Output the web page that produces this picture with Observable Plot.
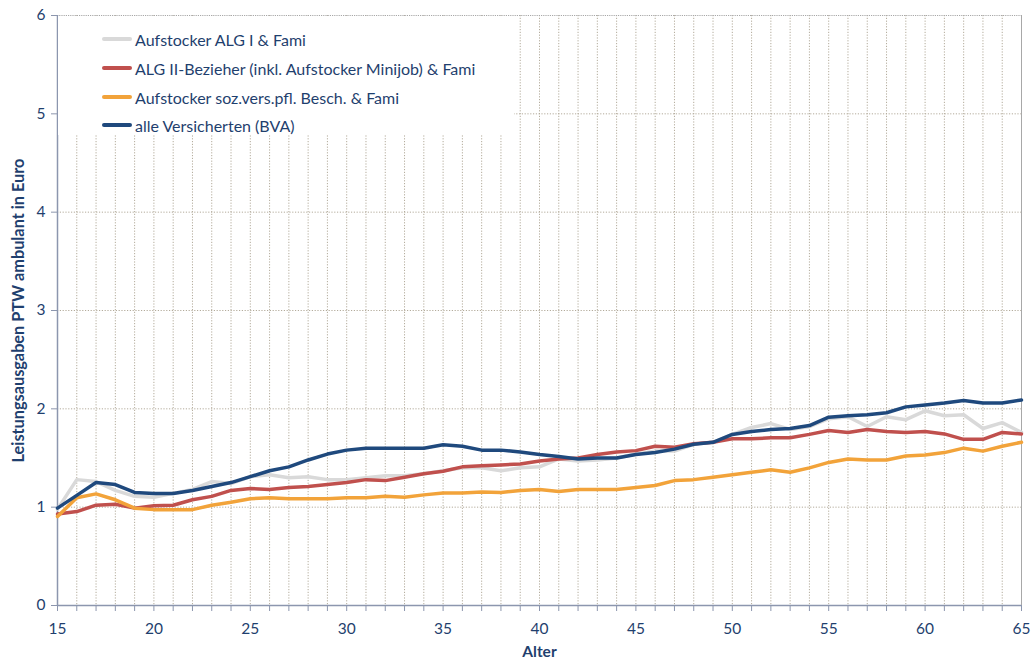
<!DOCTYPE html>
<html>
<head>
<meta charset="utf-8">
<script src="https://cdn.jsdelivr.net/npm/d3@7"></script>
<script src="https://cdn.jsdelivr.net/npm/@observablehq/plot@0.6"></script>
<style>
  html, body { margin: 0; padding: 0; background: #fff; }
  #wrap { position: relative; width: 1035px; height: 664px; font-family: Lato, "Open Sans", sans-serif; }
  #legend { position: absolute; left: 58px; top: 16px; width: 456px; height: 119px; background: #fff; }
  .item { position: absolute; left: 44px; height: 20px; display: flex; align-items: center; color: #1F3F6E; font-size: 16px; white-space: nowrap; }
  .sw { width: 30px; height: 4px; margin-right: 3px; border-radius: 2px; }
</style>
</head>
<body>
<div id="wrap">
  <div id="chart"></div>
  <div id="legend"></div>
</div>
<script>
const ages = d3.range(15, 66);
const seriesNames = [
  "Aufstocker ALG I & Fami",
  "ALG II-Bezieher (inkl. Aufstocker Minijob) & Fami",
  "Aufstocker soz.vers.pfl. Besch. & Fami",
  "alle Versicherten (BVA)"
];
const seriesColors = ["#D9D9D9", "#C0504D", "#F2A33A", "#1F497D"];

const algI = [0.98,1.28,1.26,1.17,1.11,1.10,1.14,1.18,1.26,1.24,1.31,1.33,1.30,1.31,1.28,1.28,1.30,1.32,1.32,1.34,1.37,1.40,1.40,1.37,1.40,1.41,1.49,1.47,1.48,1.50,1.54,1.57,1.57,1.64,1.66,1.74,1.81,1.85,1.79,1.82,1.90,1.92,1.82,1.92,1.89,1.98,1.93,1.94,1.80,1.86,1.76];
const algII = [0.93,0.955,1.02,1.03,0.99,1.015,1.02,1.075,1.11,1.17,1.19,1.18,1.20,1.21,1.23,1.25,1.28,1.27,1.305,1.34,1.365,1.41,1.42,1.43,1.44,1.47,1.49,1.50,1.535,1.56,1.575,1.62,1.61,1.645,1.66,1.695,1.695,1.705,1.705,1.74,1.78,1.76,1.79,1.77,1.76,1.77,1.745,1.69,1.69,1.76,1.745];
const sozvers = [0.905,1.095,1.135,1.075,0.99,0.975,0.975,0.975,1.02,1.05,1.085,1.095,1.085,1.085,1.085,1.095,1.095,1.11,1.10,1.125,1.145,1.145,1.155,1.15,1.17,1.18,1.16,1.18,1.18,1.18,1.20,1.22,1.27,1.28,1.305,1.33,1.355,1.38,1.355,1.40,1.455,1.49,1.48,1.48,1.52,1.53,1.555,1.60,1.57,1.62,1.66];
const bva = [0.99,1.12,1.25,1.23,1.15,1.14,1.14,1.17,1.21,1.25,1.31,1.37,1.41,1.48,1.54,1.58,1.60,1.60,1.60,1.60,1.635,1.62,1.58,1.58,1.56,1.535,1.515,1.49,1.50,1.50,1.535,1.555,1.59,1.64,1.66,1.74,1.77,1.79,1.80,1.83,1.915,1.93,1.94,1.96,2.02,2.04,2.06,2.085,2.06,2.06,2.09];

const yTicks = [0,1,2,3,4,5,6];
const xLabelTicks = d3.range(15, 66, 5);
const gridX = d3.range(16, 65);
const gridY = [1,2,3,4,5];

const allValues = [algI, algII, sozvers, bva];
const rows = [];
allValues.forEach((vals, i) => vals.forEach((v, j) => rows.push({series: seriesNames[i], age: ages[j], value: v})));

const textColor = "#1F3F6E";
const axisColor = "#8C96AE";

const chart = Plot.plot({
  width: 1035,
  height: 664,
  marginLeft: 57,
  marginRight: 14,
  marginTop: 15,
  marginBottom: 59,
  style: {fontFamily: "Lato, 'Open Sans', sans-serif", fontSize: "15.5px", color: textColor, background: "#fff"},
  x: {domain: [15, 65]},
  y: {domain: [0, 6]},
  color: {domain: seriesNames, range: seriesColors},
  marks: [
    Plot.ruleX(gridX, {stroke: "#B3AB9B", strokeDasharray: "1.2,1.6", strokeWidth: 1}),
    Plot.ruleY(gridY, {stroke: "#B3AB9B", strokeDasharray: "1.2,1.6", strokeWidth: 1}),
    Plot.ruleY([6], {stroke: "#A8A8A8", strokeDasharray: "1.2,1"}),
    Plot.ruleX([65], {stroke: "#A8A8A8"}),
    Plot.ruleX([15], {stroke: axisColor, strokeWidth: 1.5}),
    Plot.ruleY([0], {stroke: axisColor, strokeWidth: 1.5}),
    Plot.axisX(ages, {tickSize: 6, tickFormat: () => "", stroke: axisColor, label: null}),
    Plot.axisX(xLabelTicks, {tickSize: 0, tickPadding: 17, fill: textColor, fontSize: 15.5, label: "Alter", labelAnchor: "center", labelArrow: "none", labelOffset: 51, tickFormat: d => d}),
    Plot.axisY(yTicks, {tickSize: 6, tickPadding: 6, stroke: axisColor, fill: textColor, fontSize: 15.5, label: null, tickFormat: d => d}),
    Plot.line(rows, {x: "age", y: "value", stroke: "series", strokeWidth: 3.5, strokeLinejoin: "round", strokeLinecap: "round"}),
    Plot.text(["Leistungsausgaben PTW ambulant in Euro"], {frameAnchor: "left", textAnchor: "middle", dx: -39, rotate: -90, fontWeight: "bold", fill: textColor})
  ]
});
d3.select(chart).selectAll("[aria-label='x-axis label'] text, [aria-label='x-axis label']").attr("font-weight", "bold").attr("fill", textColor).style("font-size", "15.5px");
d3.select(chart).selectAll("g[aria-label='text']").style("font-size", "16.3px");
document.getElementById("chart").appendChild(chart);

const legend = document.getElementById("legend");
const legendTops = [13, 42, 71, 99];
seriesNames.forEach((name, i) => {
  const it = document.createElement("div");
  it.className = "item";
  it.style.top = legendTops[i] + "px";
  it.innerHTML = `<span class="sw" style="background:${seriesColors[i]}"></span><span>${name}</span>`;
  legend.appendChild(it);
});
</script>
</body>
</html>
